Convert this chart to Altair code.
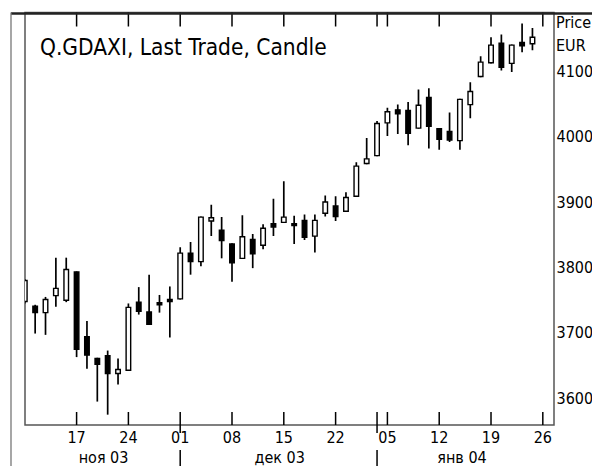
import altair as alt
import pandas as pd

# ---- data ----
dates = ["2003-11-10", "2003-11-11", "2003-11-12", "2003-11-13", "2003-11-14",
         "2003-11-17", "2003-11-18", "2003-11-19", "2003-11-20", "2003-11-21",
         "2003-11-24", "2003-11-25", "2003-11-26", "2003-11-27", "2003-11-28",
         "2003-12-01", "2003-12-02", "2003-12-03", "2003-12-04", "2003-12-05",
         "2003-12-08", "2003-12-09", "2003-12-10", "2003-12-11", "2003-12-12",
         "2003-12-15", "2003-12-16", "2003-12-17", "2003-12-18", "2003-12-19",
         "2003-12-22", "2003-12-23", "2003-12-29", "2003-12-30", "2004-01-02",
         "2004-01-05", "2004-01-06", "2004-01-07", "2004-01-08", "2004-01-09",
         "2004-01-12", "2004-01-13", "2004-01-14", "2004-01-15", "2004-01-16",
         "2004-01-19", "2004-01-20", "2004-01-21", "2004-01-22", "2004-01-23"]
opens = [3748, 3741, 3731, 3757, 3750, 3793, 3694, 3661, 3665, 3638,
         3643, 3747, 3732, 3746, 3751, 3752, 3822, 3809, 3871, 3857,
         3836, 3814, 3843, 3834, 3867, 3869, 3867, 3872, 3848, 3883,
         3894, 3886, 3909, 3959, 3971, 4021, 4041, 4040, 4013, 4060,
         4012, 4008, 3994, 4049, 4092, 4113, 4143, 4112, 4144, 4142]
highs = [3782, 3743, 3755, 3815, 3815, 3794, 3718, 3662, 3673, 3661,
         3745, 3770, 3789, 3758, 3771, 3831, 3839, 3878, 3896, 3877,
         3837, 3880, 3851, 3866, 3905, 3932, 3879, 3881, 3881, 3910,
         3909, 3915, 3961, 3998, 4024, 4044, 4049, 4053, 4072, 4074,
         4013, 4037, 4058, 4083, 4123, 4152, 4156, 4141, 4173, 4166]
lows = [3745, 3699, 3697, 3740, 3747, 3663, 3645, 3595, 3575, 3621,
        3642, 3728, 3712, 3731, 3693, 3751, 3789, 3802, 3848, 3814,
        3778, 3813, 3799, 3828, 3848, 3868, 3836, 3842, 3823, 3878,
        3871, 3885, 3908, 3958, 3970, 4001, 4004, 3987, 4012, 3982,
        3980, 3992, 3980, 4028, 4091, 4112, 4101, 4099, 4129, 4132]
closes = [3780, 3731, 3751, 3768, 3797, 3675, 3666, 3652, 3638, 3644,
          3739, 3733, 3713, 3743, 3748, 3822, 3809, 3877, 3876, 3841,
          3807, 3847, 3821, 3860, 3862, 3877, 3864, 3846, 3872, 3900,
          3878, 3907, 3955, 3966, 4020, 4038, 4035, 4005, 4048, 4016,
          3996, 3995, 4057, 4069, 4114, 4140, 4106, 4140, 4139, 4152]

tick_idx = [5, 10, 15, 20, 25, 30, 35, 40, 45, 50]
tick_labels = ["17", "24", "01", "08", "15", "22", "05", "12", "19", "26"]
month_start_idx = [15, 34]
month_label_pos = [7.6, 24.6, 42.2]
month_labels = ["ноя 03", "дек 03", "янв 04"]
y_values = [3600, 3700, 3800, 3900, 4000, 4100]
title_text = "Q.GDAXI, Last Trade, Candle"
unit_lines = ["Price", "EUR"]

# ---- layout constants ----
W = 529
H = 412.5
FONT = "DejaVu Sans Condensed"
LINE = "#555555"
HALF = 0.22  # half candle body width, in day units

df = pd.DataFrame({"date": dates, "idx": list(range(len(dates))),
                   "open": opens, "high": highs, "low": lows, "close": closes})
df["up"] = df["close"] >= df["open"]

xs = alt.Scale(domain=[0.02, 51.08], nice=False, zero=False)
ys = alt.Scale(domain=[3559.2, 4189.8], nice=False, zero=False)

yaxis = alt.Axis(orient="right", values=y_values, format="d", ticks=False, domain=False,
                 grid=False, labelFont=FONT, labelFontSize=16,
                 labelColor="black", labelPadding=2, title=None,
                 labelBaseline="middle", labelAlign="left")

X = alt.X("idx:Q", scale=xs, axis=None)

wicks = alt.Chart(df).mark_rule(color="black", strokeWidth=1.7, clip=True).encode(
    x=X,
    y=alt.Y("low:Q", scale=ys, axis=yaxis),
    y2="high:Q",
)

bodies = alt.Chart(df).transform_calculate(
    x0=f"datum.idx - {HALF}", x1=f"datum.idx + {HALF}"
).mark_rect(stroke="black", strokeWidth=1.4, clip=True).encode(
    x=alt.X("x0:Q", scale=xs, axis=None),
    x2="x1:Q",
    y=alt.Y("open:Q", scale=ys, axis=yaxis),
    y2="close:Q",
    fill=alt.condition("datum.up", alt.value("white"), alt.value("black")),
)

all_ticks = sorted(tick_idx + month_start_idx[1:])
tick_df = pd.DataFrame({"idx": all_ticks})
bottom_ticks = alt.Chart(tick_df).mark_rule(color="black", strokeWidth=1.5).encode(
    x=X, y=alt.value(H - 13), y2=alt.value(H))
top_ticks = alt.Chart(tick_df).mark_rule(color="black", strokeWidth=1.5).encode(
    x=X, y=alt.value(0), y2=alt.value(14))

ms_df = pd.DataFrame({"idx": month_start_idx})
month_ticks = alt.Chart(ms_df).mark_rule(color="black", strokeWidth=1.5).encode(
    x=X, y=alt.value(H), y2=alt.value(H + 8))
month_sep = alt.Chart(ms_df).mark_rule(color="black", strokeWidth=1.5).encode(
    x=X, y=alt.value(H + 25), y2=alt.value(H + 45))

lab_df = pd.DataFrame({"idx": tick_idx, "lab": tick_labels})
day_labels = alt.Chart(lab_df).mark_text(font=FONT, fontSize=16, color="black",
                                          baseline="middle", align="center").encode(
    x=X, y=alt.value(H + 12.5), text="lab:N")

mlab_df = pd.DataFrame({"idx": month_label_pos, "lab": month_labels})
mon_labels = alt.Chart(mlab_df).mark_text(font=FONT, fontSize=16, color="black",
                                           baseline="middle", align="center").encode(
    x=X, y=alt.value(H + 33), text="lab:N")

title = alt.Chart(pd.DataFrame({"t": [title_text]})).mark_text(
    font=FONT, fontSize=22.5, color="black", align="left", baseline="middle").encode(
    x=alt.value(15), y=alt.value(35), text="t:N")

unit1 = alt.Chart(pd.DataFrame({"t": [unit_lines[0]]})).mark_text(
    font=FONT, fontSize=16, color="black", align="left", baseline="middle").encode(
    x=alt.value(W + 2), y=alt.value(10.8), text="t:N")
unit2 = alt.Chart(pd.DataFrame({"t": [unit_lines[1]]})).mark_text(
    font=FONT, fontSize=16, color="black", align="left", baseline="middle").encode(
    x=alt.value(W + 2), y=alt.value(33.2), text="t:N")

top_line = alt.Chart(pd.DataFrame({"a": [0]})).mark_rule(color="#222222", strokeWidth=2.4).encode(
    x=alt.value(-14), x2=alt.value(W + 60), y=alt.value(1))
left_outer = alt.Chart(pd.DataFrame({"a": [0]})).mark_rule(color="#777777", strokeWidth=1.3).encode(
    x=alt.value(-14), y=alt.value(0), y2=alt.value(H + 46))

chart = alt.layer(
    wicks, bodies, bottom_ticks, top_ticks, month_ticks, month_sep,
    day_labels, mon_labels, title, unit1, unit2, top_line, left_outer,
).properties(
    width=W, height=H,
    autosize=alt.AutoSizeParams(type="none"),
    padding={"left": 17, "top": 4.5, "right": 38, "bottom": 41},
    background="white",
).configure_view(stroke=LINE, strokeWidth=1.5)

chart.save("out.html", embed_options={"renderer": "svg", "actions": False})
